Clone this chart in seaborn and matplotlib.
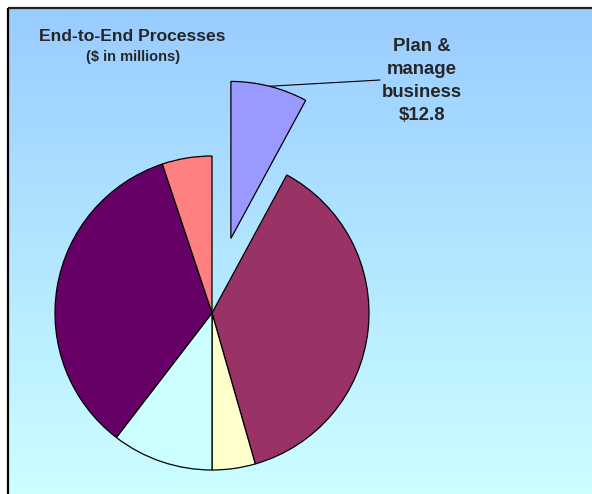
import numpy as np
import matplotlib
matplotlib.use("Agg")
import matplotlib.pyplot as plt
from matplotlib.colors import LinearSegmentedColormap
import seaborn as sns

# End-to-end process spend ($ in millions), clockwise from 12 o'clock
processes = ["Plan & manage business", "Process B", "Process C",
             "Process D", "Process E", "Process F"]
values = [12.8, 61.0, 7.2, 16.9, 55.8, 8.3]
colors = ["#9999FF", "#993366", "#FFFFCC", "#CCFFFF", "#660066", "#FF8080"]
explode = [0.49, 0, 0, 0, 0, 0]   # fraction of the radius
callout = "Plan &\nmanage\nbusiness\n$12.8"

sns.set_style("white")
plt.rcParams["font.family"] = ["Liberation Sans", "DejaVu Sans"]

W, H = 592, 494
fig = plt.figure(figsize=(W / 100, H / 100), dpi=100)
fig.patch.set_facecolor("white")
ax = fig.add_axes([0, 0, 1, 1])

# chart-area background: vertical gradient light blue -> light cyan
grad = LinearSegmentedColormap.from_list("bg", ["#99CCFF", "#CCFFFF"])
g = np.linspace(0, 1, 256).reshape(-1, 1)
ax.imshow(g, cmap=grad, aspect="auto", extent=(8, W, 0, H - 8),
          origin="upper", zorder=0)

cx, cy, r = 212, H - 313, 157
wedges, _ = ax.pie(values, colors=colors, explode=[e * r for e in explode],
                   startangle=90, counterclock=False, radius=r,
                   center=(cx, cy),
                   wedgeprops=dict(edgecolor="black", linewidth=0.9),
                   frame=True)
for w in wedges:
    w.set_zorder(2)

ax.set_xlim(0, W)
ax.set_ylim(0, H)
ax.set_aspect("auto")
ax.set_position([0, 0, 1, 1])
ax.axis("off")

# frame lines of the chart box
ax.plot([8, W], [H - 8, H - 8], color="#222222", lw=1.6, zorder=3,
        solid_capstyle="butt")
ax.plot([8, 8], [0, H - 8], color="black", lw=1.6, zorder=3,
        solid_capstyle="butt")

# leader line from the middle of the exploded wedge's arc to the callout
w0 = wedges[0]
mid = np.deg2rad((w0.theta1 + w0.theta2) / 2)
wx, wy = w0.center
px, py = wx + w0.r * np.cos(mid), wy + w0.r * np.sin(mid)
ax.annotate("", xy=(px, py), xytext=(380, H - 80),
            arrowprops=dict(arrowstyle="-", color="black", lw=0.8,
                            shrinkA=0, shrinkB=0), zorder=3)
ax.text(422, H - 81, callout, ha="center", va="center", fontsize=13.4,
        fontweight="bold", linespacing=1.48, zorder=3)

ax.text(132, H - 37, "End-to-End Processes", ha="center", va="center",
        fontsize=12.6, fontweight="bold", zorder=3)
ax.text(133, H - 57, "($ in millions)", ha="center", va="center",
        fontsize=10.5, fontweight="bold", zorder=3)

fig.savefig("out.png", dpi=100)
